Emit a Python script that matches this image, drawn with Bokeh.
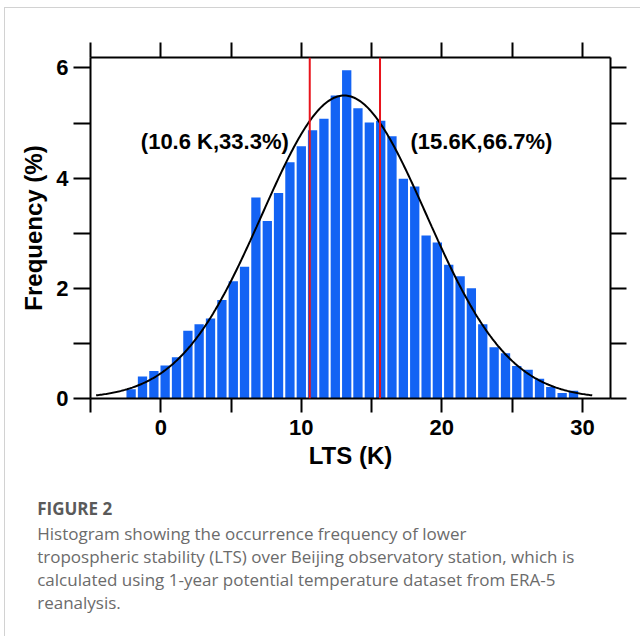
import numpy as np
from bokeh.plotting import figure
from bokeh.models import (Range1d, LinearAxis, FixedTicker, CustomJSTickFormatter,
                          Span, Label, Title)
from bokeh.embed import file_html
from bokeh.resources import INLINE

# LTS histogram: bin centres (K) and occurrence frequency (%)
bin_centers = [-2.11, -1.30, -0.49, 0.31, 1.12, 1.93, 2.73, 3.54, 4.35, 5.16,
               5.96, 6.77, 7.58, 8.38, 9.19, 10.00, 10.80, 11.61, 12.42, 13.23,
               14.03, 14.84, 15.65, 16.45, 17.26, 18.07, 18.88, 19.68, 20.49, 21.30,
               22.10, 22.91, 23.72, 24.53, 25.33, 26.14, 26.95, 27.75, 28.56, 29.37]
frequency = [0.17, 0.40, 0.50, 0.60, 0.75, 1.23, 1.35, 1.45, 1.79, 2.13,
             2.39, 3.65, 3.22, 3.73, 4.29, 4.58, 4.87, 5.08, 5.50, 5.96,
             5.27, 5.01, 5.04, 4.76, 3.99, 3.85, 2.96, 2.83, 2.43, 2.22,
             2.00, 1.35, 0.93, 0.82, 0.59, 0.52, 0.36, 0.21, 0.10, 0.14]
bin_width = 0.807

# Gaussian fit to the distribution
fit_mean = 13.05
fit_sigma = 5.85
fit_peak = 5.5
fit_range = [-4.6, 30.7]

# Tercile boundaries of LTS
tercile_lts = [10.6, 15.6]
tercile_labels = ["(10.6 K,33.3%)", "(15.6K,66.7%)"]

x_ticks = [-5, 0, 5, 10, 15, 20, 25, 30]
y_ticks = [0, 1, 2, 3, 4, 5, 6]

caption_title = "FIGURE 2"
caption_lines = [
    "Histogram showing the occurrence frequency of lower",
    "tropospheric stability (LTS) over Beijing observatory station, which is",
    "calculated using 1-year potential temperature dataset from ERA-5",
    "reanalysis.",
]

FONT = "Liberation Sans"
CAPTION_FONT = "Open Sans"

p = figure(width=636, height=629, output_backend="svg", toolbar_location=None,
           x_range=Range1d(-5, 32), y_range=Range1d(0, 6.19),
           min_border_left=85, min_border_right=31, min_border_top=49,
           min_border_bottom=239, background_fill_color="white",
           border_fill_color="white")
p.outline_line_color = None
p.grid.visible = False
# card outline on the left and top edges of the figure
p.styles = {"margin-left": "4px", "margin-top": "7px",
            "border-left": "1px solid #d2d2d2", "border-top": "1px solid #d2d2d2"}

# Bars
p.vbar(x=bin_centers, top=frequency, width=bin_width * 0.82, bottom=0,
       fill_color="#1363f4", line_color=None)

# Fitted normal curve
xs = np.linspace(fit_range[0], fit_range[1], 400)
ys = fit_peak * np.exp(-0.5 * ((xs - fit_mean) / fit_sigma) ** 2)
p.line(xs, ys, line_color="black", line_width=2)

# Tercile markers
for loc in tercile_lts:
    p.add_layout(Span(location=loc, dimension="height", line_color="#e8141c",
                      line_width=2))

for txt, xpos in zip(tercile_labels, [-1.42, 17.77]):
    p.add_layout(Label(x=xpos, y=4.67, text=txt, text_font=FONT,
                       text_font_style="bold", text_font_size="22px",
                       text_baseline="middle", text_align="left",
                       text_color="black"))

# Axes: labelled bottom/left, bare ticks on top/right
def style_axis(ax):
    ax.axis_line_width = 2
    ax.axis_line_color = "black"
    ax.major_tick_line_width = 2
    ax.major_tick_line_color = "black"
    ax.major_tick_in = 0
    ax.minor_tick_line_color = None
    ax.major_label_text_font = FONT
    ax.major_label_text_font_style = "bold"
    ax.major_label_text_font_size = "22px"
    ax.major_label_text_color = "black"
    ax.axis_label_text_font = FONT
    ax.axis_label_text_font_style = "bold"
    ax.axis_label_text_font_size = "24px"
    ax.axis_label_text_color = "black"

xb = p.xaxis[0]
xb.ticker = FixedTicker(ticks=x_ticks)
xb.formatter = CustomJSTickFormatter(code="return (tick % 10 == 0) ? tick.toFixed(0) : '';")
xb.axis_label = "LTS (K)"
style_axis(xb)
xb.major_tick_out = 14
xb.major_label_standoff = 7
xb.axis_label_standoff = 4

yl = p.yaxis[0]
yl.ticker = FixedTicker(ticks=y_ticks)
yl.formatter = CustomJSTickFormatter(code="return (tick % 2 == 0) ? tick.toFixed(0) : '';")
yl.axis_label = "Frequency (%)"
style_axis(yl)
yl.major_tick_out = 17
yl.major_label_standoff = 5
yl.axis_label_standoff = 6

xt = LinearAxis(ticker=FixedTicker(ticks=x_ticks),
                formatter=CustomJSTickFormatter(code="return '';"))
style_axis(xt)
xt.major_tick_out = 15
xt.major_label_standoff = 0
p.add_layout(xt, "above")

yr = LinearAxis(ticker=FixedTicker(ticks=y_ticks),
                formatter=CustomJSTickFormatter(code="return '';"))
style_axis(yr)
yr.major_tick_out = 16
yr.major_label_standoff = 0
p.add_layout(yr, "right")

# Figure caption, stacked below the x axis: a small gap, the heading, the text
p.add_layout(Title(text=" ", text_font_size="1px", standoff=20), "below")
p.add_layout(Title(text=caption_title, align="left", offset=-53.3, standoff=0,
                   text_font=CAPTION_FONT, text_font_style="bold",
                   text_font_size="17px", text_color="#5a5a5a"), "below")
p.add_layout(Title(text="\n".join(caption_lines), align="left", offset=-53.3,
                   standoff=0, text_line_height=1.0,
                   text_font=CAPTION_FONT, text_font_style="normal",
                   text_font_size="17px", text_color="#6b6b6b"), "below")

open("out.html", "w").write(file_html(p, INLINE))
